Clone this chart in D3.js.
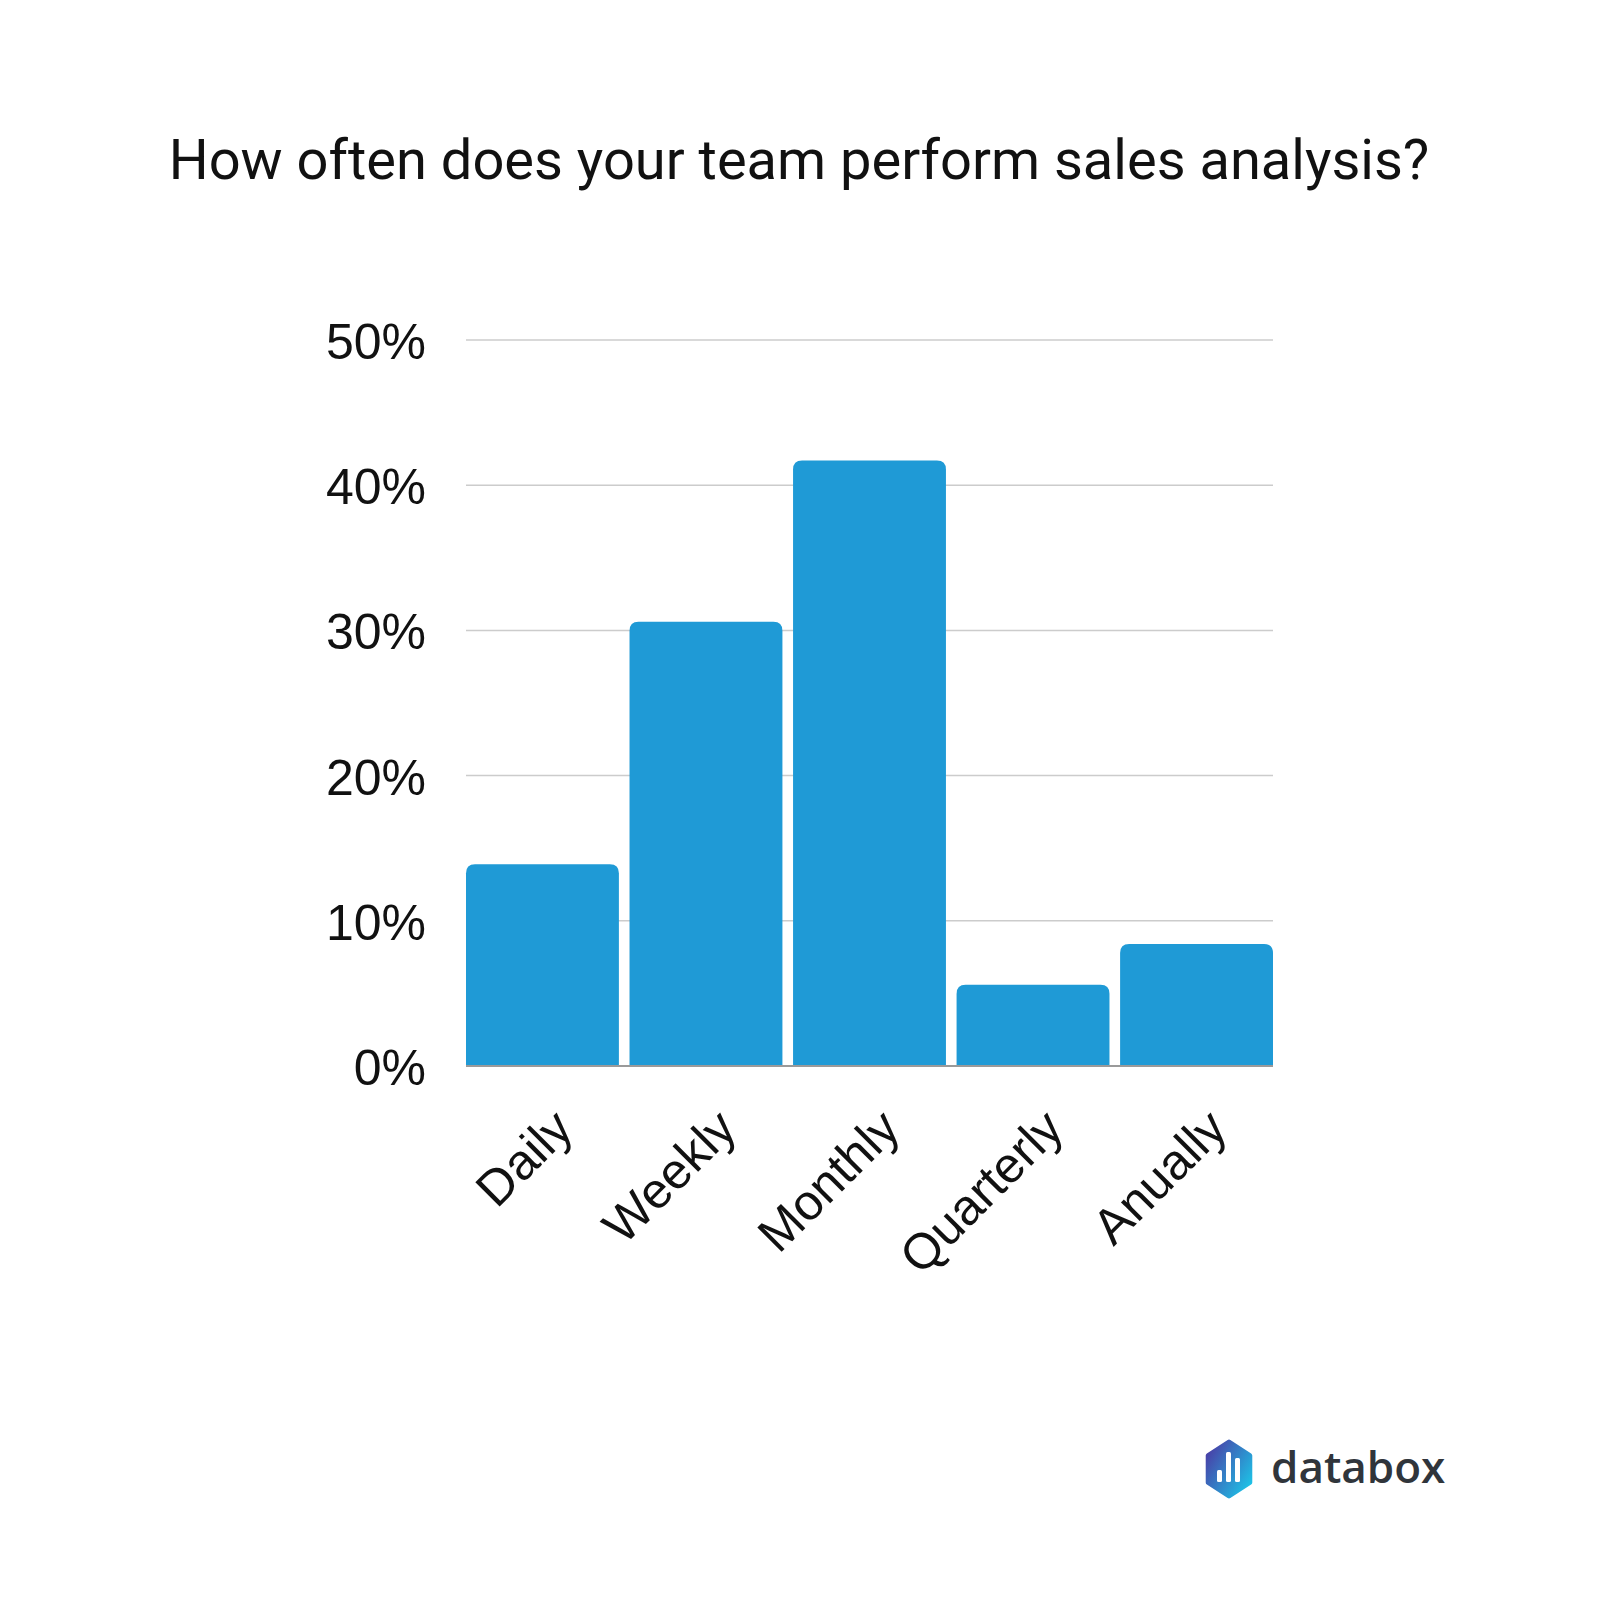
<!DOCTYPE html>
<html>
<head>
<meta charset="utf-8">
<script src="https://cdn.jsdelivr.net/npm/d3@7"></script>
<style>
  body { margin: 0; background: #fff; }
</style>
</head>
<body>
<div id="chart"></div>
<script>
// data
let categories = ['Daily', 'Weekly', 'Monthly', 'Quarterly', 'Anually'];
let values = [13.9, 30.6, 41.7, 5.6, 8.4];
let yTicks = [0, 10, 20, 30, 40, 50];

let svgWidth = 1600;
let svgHeight = 1600;

let margin = { top: 340, right: 327, bottom: 534, left: 466 };
let width = svgWidth - margin.left - margin.right;
let height = svgHeight - margin.top - margin.bottom;

let svg = d3.select('#chart').append('svg')
    .attr('width', svgWidth)
    .attr('height', svgHeight);

// title
svg.append('text')
    .attr('x', 799)
    .attr('y', 179)
    .attr('text-anchor', 'middle')
    .attr('font-family', 'Roboto')
    .attr('font-size', '56px')
    .attr('fill', '#111')
    .text('How often does your team perform sales analysis?');

let chartGroup = svg.append('g')
    .attr('transform', `translate(${margin.left}, ${margin.top})`);

let xScale = d3.scaleBand()
    .domain(categories)
    .range([0, width])
    .paddingInner(0.065)
    .paddingOuter(0);

let yScale = d3.scaleLinear()
    .domain([0, 50])
    .range([height, 0]);

// gridlines
chartGroup.selectAll('.grid')
    .data(yTicks.slice(1))
    .enter()
    .append('line')
    .attr('x1', 0)
    .attr('x2', width)
    .attr('y1', d => yScale(d))
    .attr('y2', d => yScale(d))
    .attr('stroke', '#cccccc')
    .attr('stroke-width', 1.5);

// y labels
chartGroup.selectAll('.ylabel')
    .data(yTicks)
    .enter()
    .append('text')
    .attr('x', -40)
    .attr('y', d => yScale(d))
    .attr('dy', 19)
    .attr('text-anchor', 'end')
    .attr('font-family', 'Liberation Sans, Arial')
    .attr('font-size', '50px')
    .attr('fill', '#111')
    .text(d => `${d}%`);

// bars with rounded tops
function barPath(d, i) {
    let x0 = xScale(categories[i]);
    let x1 = x0 + xScale.bandwidth();
    let y0 = yScale(0);
    let y1 = yScale(d);
    let r = 9;
    return `M${x0},${y0}V${y1 + r}Q${x0},${y1} ${x0 + r},${y1}H${x1 - r}Q${x1},${y1} ${x1},${y1 + r}V${y0}Z`;
}

chartGroup.selectAll('.bar')
    .data(values)
    .enter()
    .append('path')
    .attr('d', barPath)
    .attr('fill', '#1f9ad6');

// baseline
chartGroup.append('line')
    .attr('x1', 0)
    .attr('x2', width)
    .attr('y1', height)
    .attr('y2', height)
    .attr('stroke', '#9a9a9a')
    .attr('stroke-width', 2);

// x labels
chartGroup.selectAll('.xlabel')
    .data(categories)
    .enter()
    .append('text')
    .attr('transform', d => `translate(${xScale(d) + xScale.bandwidth() / 2 + 33}, ${height + 65}) rotate(-45)`)
    .attr('text-anchor', 'end')
    .attr('font-family', 'Liberation Sans, Arial')
    .attr('font-size', '50px')
    .attr('fill', '#111')
    .text(d => d);

// databox logo
let logo = svg.append('g')
    .attr('transform', 'translate(1229, 1469)');

let defs = svg.append('defs');
let grad = defs.append('linearGradient')
    .attr('id', 'logoGrad')
    .attr('x1', '0%').attr('y1', '10%')
    .attr('x2', '100%').attr('y2', '90%');
grad.append('stop').attr('offset', '0%').attr('stop-color', '#4a3da6');
grad.append('stop').attr('offset', '100%').attr('stop-color', '#1cc6e8');

let hex = d3.range(6).map(k => {
    let a = Math.PI / 3 * k - Math.PI / 2;
    return [24 * Math.cos(a), 27 * Math.sin(a)];
});
logo.append('path')
    .attr('d', d3.line().curve(d3.curveLinearClosed)(hex))
    .attr('fill', 'url(#logoGrad)')
    .attr('stroke', 'url(#logoGrad)')
    .attr('stroke-width', 5)
    .attr('stroke-linejoin', 'round');

let logoBars = [[-12, 12], [-3, 30], [6, 24]];
logo.selectAll('.lb')
    .data(logoBars)
    .enter()
    .append('rect')
    .attr('x', d => d[0])
    .attr('y', d => 13 - d[1])
    .attr('width', 5)
    .attr('height', d => d[1])
    .attr('rx', 1.5)
    .attr('fill', '#fff');

svg.append('text')
    .attr('x', 1271)
    .attr('y', 1483)
    .attr('font-family', 'Open Sans')
    .attr('font-weight', 600)
    .attr('font-size', '44px')
    .attr('fill', '#30353b')
    .text('databox');
</script>
</body>
</html>
